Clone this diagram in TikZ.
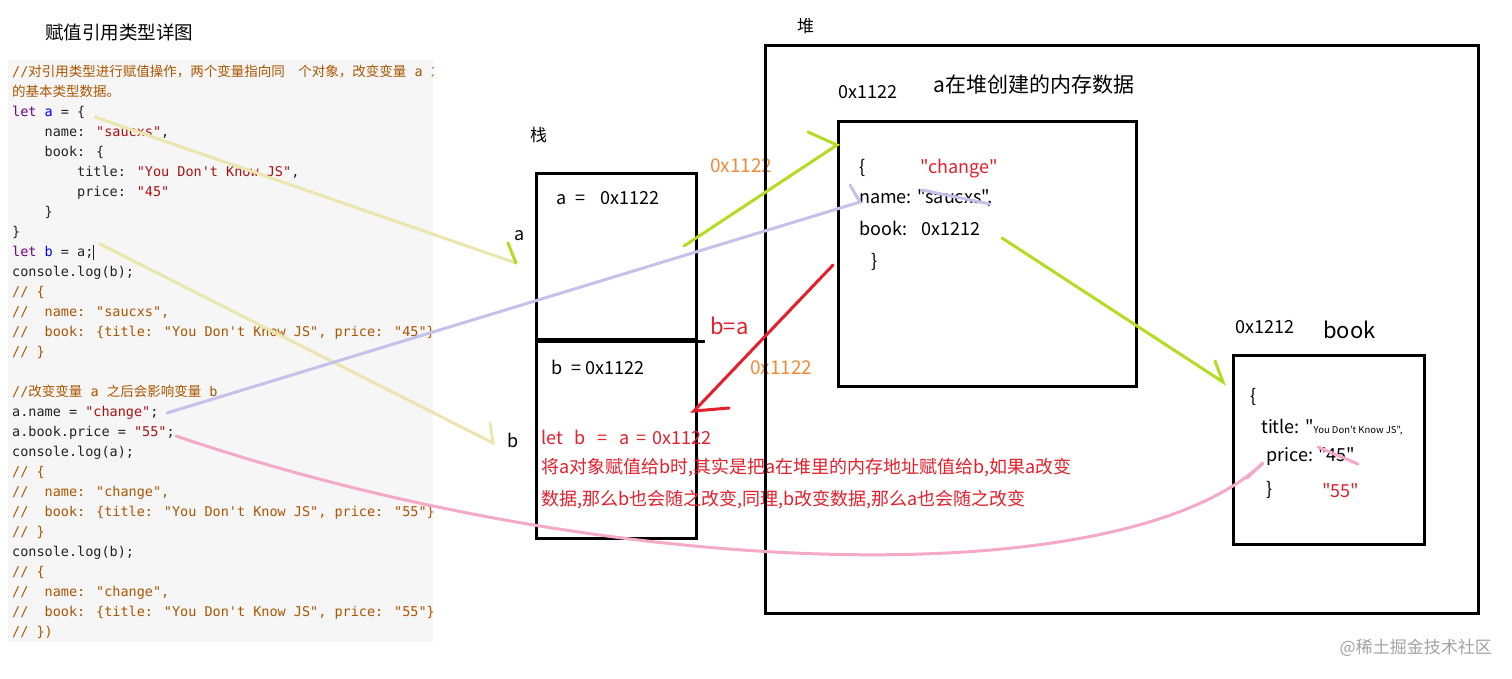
\documentclass[tikz,border=0pt]{standalone}
\usepackage{fontspec}
\setmainfont[Ligatures=TeXOff]{Noto Sans CJK SC}
\newfontfamily\cjk[Ligatures=TeXOff]{Noto Sans CJK SC}
\newfontfamily\codefont[Ligatures=TeXOff]{DejaVu Sans Mono}
\usepackage{tikz}
\usetikzlibrary{positioning}
\definecolor{codebg}{HTML}{F6F6F6}
\definecolor{codeplain}{HTML}{222222}
\definecolor{cmcomment}{HTML}{AA5500}
\definecolor{cmkeyword}{HTML}{770088}
\definecolor{cmdef}{HTML}{0000FF}
\definecolor{cmstring}{HTML}{AA1111}
\definecolor{memred}{HTML}{E3202C}
\definecolor{memorange}{HTML}{F28A35}
\definecolor{inkgreen}{HTML}{B4DC23}
\definecolor{inkyellow}{HTML}{EBE5AE}
\definecolor{inklilac}{HTML}{C6C1EA}
\definecolor{inkpink}{HTML}{F5A9C8}
\definecolor{markgray}{HTML}{A3A3A3}
\newcommand\ccm[1]{\textcolor{cmcomment}{#1}}
\newcommand\ckw[1]{\textcolor{cmkeyword}{#1}}
\newcommand\cdf[1]{\textcolor{cmdef}{#1}}
\newcommand\cst[1]{\textcolor{cmstring}{#1}}
\tikzset{
  memblock/.style={draw=black, line width=3pt, anchor=north west, inner sep=0pt},
  codepanel/.style={fill=codebg, anchor=north west, inner sep=0pt},
  codetext/.style={anchor=north west, inner sep=0pt, align=left, text=codeplain,
    font=\codefont\fontsize{13.5}{20}\selectfont},
  txt/.style={anchor=west, inner sep=0pt, font=\fontsize{18}{22}\selectfont},
  redtext/.style={txt, text=memred},
  addr/.style={txt, text=memorange, font=\fontsize{19}{22}\selectfont},
  ink/.style={line width=3pt, line cap=round}
}
\begin{document}
\begin{tikzpicture}[x=1pt, y=-1pt]
  \useasboundingbox[fill=white] (0,0) rectangle (1512,679);

  % source listing on the left
  \node[txt, font=\fontsize{18.5}{22}\selectfont] (title) at (45,32) {赋值引用类型详图};
  \node[codepanel, minimum width=425pt, minimum height=582pt] (codebg) at (8,60) {};
  \begin{scope}
    \clip (codebg.south west) rectangle (codebg.north east);
    \node[codetext] (code) at (12,65) {%
      \ccm{//{\cjk 对引用类型进行赋值操作，两个变量指向同\quad 个对象，改变变量} a {\cjk 之}}\\
      \ccm{{\cjk 的基本类型数据。}}\\
      \ckw{let} \cdf{a} = \{\\
      \phantom{xxxx}name: \cst{"saucxs"},\\
      \phantom{xxxx}book: \{\\
      \phantom{xxxxxxxx}title: \cst{"You Don't Know JS"},\\
      \phantom{xxxxxxxx}price: \cst{"45"}\\
      \phantom{xxxx}\}\\
      \}\\
      \ckw{let} \cdf{b} = a;\rule[-3pt]{0.8pt}{15pt}\\
      console.log(b);\\
      \ccm{// \{}\\
      \ccm{//\phantom{xx}name: "saucxs",}\\
      \ccm{//\phantom{xx}book: \{title: "You Don't Know JS", price: "45"\}}\\
      \ccm{// \}}\\
      \mbox{}\\
      \ccm{//{\cjk 改变变量} a {\cjk 之后会影响变量} b}\\
      a.name = \cst{"change"};\\
      a.book.price = \cst{"55"};\\
      console.log(a);\\
      \ccm{// \{}\\
      \ccm{//\phantom{xx}name: "change",}\\
      \ccm{//\phantom{xx}book: \{title: "You Don't Know JS", price: "55"\}}\\
      \ccm{// \}}\\
      console.log(b);\\
      \ccm{// \{}\\
      \ccm{//\phantom{xx}name: "change",}\\
      \ccm{//\phantom{xx}book: \{title: "You Don't Know JS", price: "55"\}}\\
      \ccm{// \})}};
  \end{scope}

  % stack
  \node[txt, font=\fontsize{17}{20}\selectfont] (stacktitle) at (530,135) {栈};
  \node[memblock, minimum width=160pt, minimum height=166pt] (slota) at (535,172) {};
  \node[memblock, minimum width=160pt, minimum height=199pt] (slotb) at (535,338) {};
  \draw[line width=3pt] (slota.south west) -- ([xshift=7pt]slota.south east);
  \node[txt] (vala) at (556,198) {a\hspace{9pt}=\hspace{15pt}0x1122};
  \node[txt] (valb) at (551,367) {b\hspace{9pt}= 0x1122};
  \node[txt] (namea) at (514,236) {a};
  \node[txt] (nameb) at (507,440) {b};
  \node[redtext] (note1) at (541,437) {let\hspace{12pt}b\hspace{12pt}=\hspace{12pt}a\hspace{6pt}=\hspace{6pt}0x1122};
  \node[redtext] (note2) at (541,468) {将a对象赋值给b时,其实是把a在堆里的内存地址赋值给b,如果a改变};
  \node[redtext] (note3) at (541,500) {数据,那么b也会随之改变,同理,b改变数据,那么a也会随之改变};
  \node[redtext, font=\fontsize{22}{26}\selectfont] (bisa) at (710,326) {b=a};
  \node[addr] (refa) at (710,166) {0x1122};
  \node[addr] (refb) at (750,368) {0x1122};

  % heap
  \node[txt, font=\fontsize{17}{20}\selectfont] (heaptitle) at (797,26) {堆};
  \node[memblock, minimum width=713pt, minimum height=568pt] (heap) at (764,44) {};
  \node[memblock, minimum width=298pt, minimum height=265pt] (objbox) at (837,120) {};
  \node[txt] (objaddr) at (838,92) {0x1122};
  \node[txt, font=\fontsize{21}{24}\selectfont] (objtitle) at (933,85) {a在堆创建的内存数据};
  \node[txt] (objopen) at (859,168) {\{};
  \node[redtext] (objnew) at (920,169) {"change"};
  \node[txt] (objname) at (859,198) {name: "saucxs",};
  \node[txt] (objbook) at (859,228) {book:\hspace{14pt}0x1212};
  \node[txt] (objclose) at (871,262) {\}};

  \node[memblock, minimum width=191pt, minimum height=189pt] (bookbox) at (1232,354) {};
  \node[txt] (bookaddr) at (1235,327) {0x1212};
  \node[txt, font=\fontsize{22}{26}\selectfont] (booktitle) at (1323,330) {book};
  \node[txt] (bkopen) at (1250,397) {\{};
  \node[txt] (bktitle) at (1261,427) {title: "{\fontsize{9.5}{11}\selectfont You Don't Know JS",}};
  \node[txt] (bkprice) at (1266,457) {price: "45"};
  \node[txt] (bkclose) at (1266,490) {\}};
  \node[redtext] (bknew) at (1322,491) {"55"};

  \node[txt, anchor=east, text=markgray, font=\fontsize{17}{20}\selectfont] (mark) at (1492,648) {@稀土掘金技术社区};

  % hand-drawn pointers
  \coordinate (ya1) at (95,117);   \coordinate (ya2) at (516,263);
  \coordinate (yb1) at (100,244);  \coordinate (yb2) at (493,443);
  \coordinate (lv1) at (167,413);  \coordinate (lv2) at (860,202);
  \coordinate (pk1) at (176,436);  \coordinate (pk2) at (1263,463);
  \coordinate (ga1) at (684,246);  \coordinate (ga2) at (837,145);
  \coordinate (gb1) at (1002,238); \coordinate (gb2) at (1223,382);
  \coordinate (rd1) at (833,265);  \coordinate (rd2) at (694,411);

  \draw[ink, inkyellow] (ya1) -- (ya2);
  \draw[ink, inkgreen] (508,243) -- (ya2);
  \draw[ink, inkyellow] (yb1) -- (yb2) -- (490,423);
  \draw[ink, inklilac] (lv1) -- (lv2) -- (850,185);
  \draw[ink, inklilac] (922,190) -- (990,204);
  \draw[ink, inkpink] (pk1) .. controls (600,580) and (1120,598) .. (pk2);
  \draw[ink, inkpink] (1247,478) -- (pk2);
  \draw[ink, inkpink] (1318,447) -- (1358,464);
  \draw[ink, inkgreen] (ga1) -- (ga2) -- (808,132);
  \draw[ink, inkgreen] (gb1) -- (gb2) -- (1215,361);
  \draw[ink, memred] (rd1) -- (rd2) -- (729,408);
\end{tikzpicture}
\end{document}
